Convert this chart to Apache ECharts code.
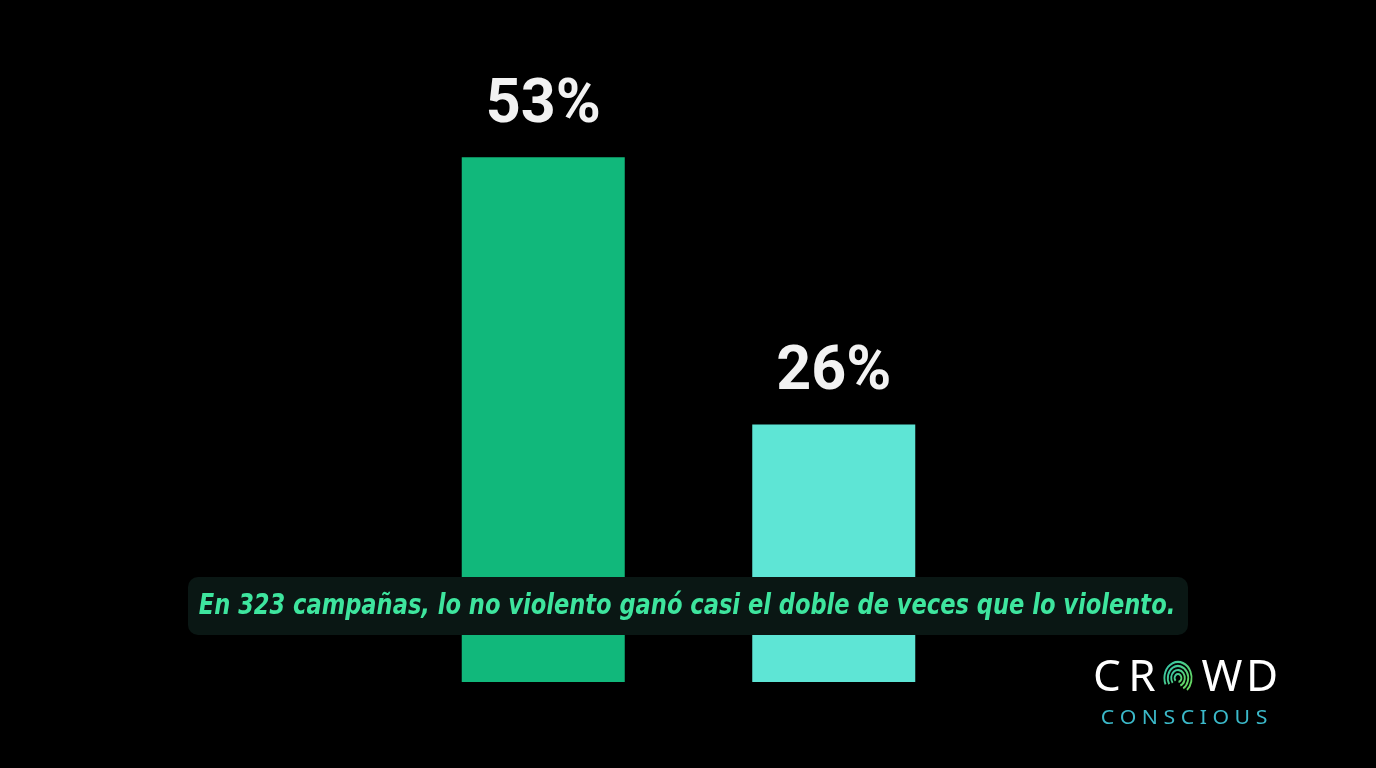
<!DOCTYPE html>
<html>
<head>
<meta charset="utf-8">
<script src="https://cdn.jsdelivr.net/npm/echarts@6/dist/echarts.min.js"></script>
<style>
  html, body { margin: 0; padding: 0; background: #000; }
  #main { width: 1376px; height: 768px; }
</style>
</head>
<body>
<div id="main"></div>
<script>
// datos
const categorias = ['No violento', 'Violento']
const porcentajes = [53, 26]
const colores = ['#11b87b', '#5ee5d5']
const subtitulo = 'En 323 campañas, lo no violento ganó casi el doble de veces que lo violento.'

const mychart = echarts.init(document.getElementById('main'))

// logo: letras de CROWD (la O es una huella)
const letraFont = '400 44px "Noto Sans", sans-serif'
const letras = [['C', 1107], ['R', 1142], ['W', 1222], ['D', 1262]].map(([t, x]) => ({
  type: 'text', z: 101, x: x, y: 678,
  style: { text: t, fill: '#ffffff', font: letraFont, align: 'center', verticalAlign: 'middle' }
}))
const huella = {
  type: 'group', z: 101, x: 1178, y: 678, scaleX: 0.85,
  children: [4, 8, 12, 16].map((r, i) => ({
    type: 'arc', z: 101,
    shape: { cx: 0, cy: 0, r: r, startAngle: Math.PI * (0.75 + i * 0.04), endAngle: Math.PI * (2.45 - i * 0.06) },
    style: {
      stroke: new echarts.graphic.LinearGradient(0, 0, 1, 1, [
        { offset: 0, color: '#2fc2b4' }, { offset: 1, color: '#6fdc52' }
      ]),
      fill: null, lineWidth: 2.2
    }
  }))
}

const option = {
  backgroundColor: '#000000',
  animation: false,
  grid: { left: 398, right: 397, top: 88, bottom: 86 },
  xAxis: {
    type: 'category',
    data: categorias,
    axisLine: { show: false },
    axisTick: { show: false },
    axisLabel: { show: false }
  },
  yAxis: {
    type: 'value',
    min: 0,
    max: 60,
    show: false,
    splitLine: { show: false }
  },
  series: [
    {
      type: 'bar',
      barWidth: 163,
      data: porcentajes.map((v, i) => ({ value: v, itemStyle: { color: colores[i] } })),
      label: {
        show: true,
        position: 'top',
        distance: 20,
        formatter: '{c}%',
        color: '#f2f2f2',
        fontFamily: 'Roboto',
        fontWeight: 'bold',
        fontSize: 61
      }
    }
  ],
  graphic: [
    {
      type: 'rect',
      z: 100,
      shape: { x: 188, y: 577, width: 1000, height: 58, r: 10 },
      style: { fill: '#0a1714' }
    },
    {
      type: 'text',
      z: 101,
      x: 687,
      y: 606,
      scaleX: 0.865,
      style: {
        text: subtitulo,
        fill: '#3ee59e',
        font: 'italic bold 29px "DejaVu Sans Condensed", sans-serif',
        align: 'center',
        verticalAlign: 'middle'
      }
    },
    ...letras,
    huella,
    {
      type: 'text',
      z: 101,
      x: 1184,
      y: 719,
      scaleX: 1.12,
      style: {
        text: 'C O N S C I O U S',
        fill: '#3bb9c9',
        font: '400 19px "Noto Sans", sans-serif',
        align: 'center',
        verticalAlign: 'middle'
      }
    }
  ]
}

mychart.setOption(option)
</script>
</body>
</html>
